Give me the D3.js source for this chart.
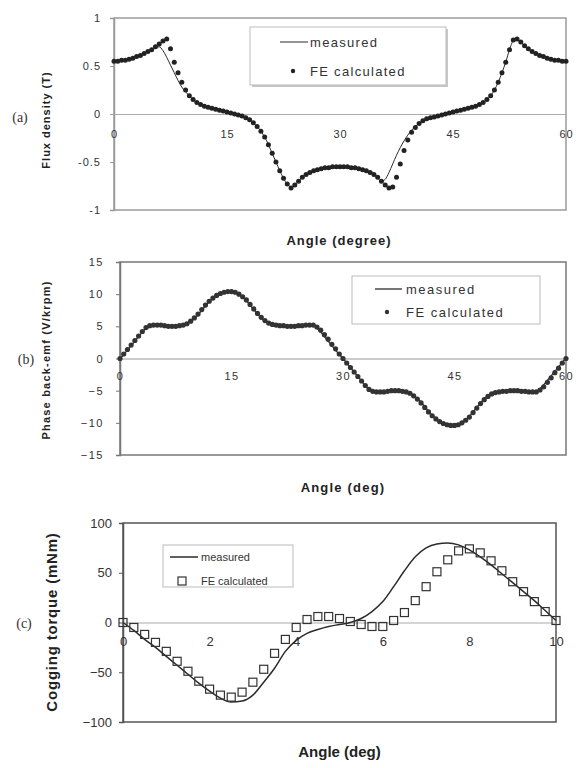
<!DOCTYPE html>
<html>
<head>
<meta charset="utf-8">
<script src="https://cdn.jsdelivr.net/npm/d3@7"></script>
<style>
  html, body { margin: 0; padding: 0; background: #fff; }
  svg { display: block; font-family: "Liberation Sans", Arial, sans-serif; }
</style>
</head>
<body>
<svg id="chart" width="576" height="768"></svg>
<script>
// ---------------- DATA ----------------
// Panel (a): flux density (T) vs angle (degree), sampled every 0.5 degree
const angleA = d3.range(0, 60.001, 0.5);
const fluxMeasured = [
  0.55,0.55,0.56,0.56,0.57,0.58,0.60,0.61,0.63,0.65,0.67,0.69,0.70,0.66,0.59,
  0.51,0.43,0.35,0.28,0.23,0.19,0.15,0.12,0.10,0.08,0.07,0.06,0.05,0.04,0.03,0.02,
  0.01,0.00,-0.01,-0.02,-0.04,-0.06,-0.09,-0.13,-0.18,-0.24,-0.32,-0.41,-0.50,-0.59,-0.67,-0.73,
  -0.76,-0.74,-0.70,-0.66,-0.63,-0.61,-0.59,-0.58,-0.57,-0.56,-0.56,-0.55,-0.55,-0.55,
  -0.55,-0.55,-0.56,-0.56,-0.57,-0.58,-0.59,-0.61,-0.63,-0.67,-0.70,-0.68,-0.61,-0.52,
  -0.43,-0.35,-0.28,-0.22,-0.17,-0.13,-0.10,-0.07,-0.05,-0.04,-0.03,-0.02,-0.01,0.00,0.01,0.02,
  0.03,0.04,0.05,0.06,0.07,0.08,0.10,0.12,0.15,0.19,0.25,0.33,0.43,0.54,0.67,0.76,
  0.77,0.75,0.71,0.68,0.65,0.63,0.61,0.60,0.58,0.57,0.56,0.56,0.55,0.55
];
const fluxFE = [
  0.55,0.55,0.56,0.56,0.57,0.58,0.60,0.61,0.63,0.65,0.67,0.70,0.73,0.76,0.78,
  0.68,0.54,0.43,0.33,0.25,0.19,0.15,0.12,0.10,0.08,0.07,0.06,0.05,0.04,0.03,0.02,
  0.01,0.00,-0.01,-0.02,-0.04,-0.06,-0.09,-0.13,-0.18,-0.24,-0.32,-0.41,-0.50,-0.59,-0.67,-0.73,
  -0.77,-0.74,-0.70,-0.66,-0.63,-0.61,-0.59,-0.58,-0.57,-0.56,-0.56,-0.55,-0.55,-0.55,
  -0.55,-0.55,-0.56,-0.56,-0.57,-0.58,-0.59,-0.61,-0.63,-0.66,-0.70,-0.74,-0.77,-0.76,
  -0.66,-0.52,-0.38,-0.27,-0.19,-0.14,-0.10,-0.07,-0.05,-0.04,-0.03,-0.02,-0.01,0.00,0.01,0.02,
  0.03,0.04,0.05,0.06,0.07,0.08,0.10,0.12,0.15,0.19,0.25,0.33,0.43,0.54,0.67,0.77,
  0.78,0.75,0.71,0.68,0.65,0.63,0.61,0.60,0.58,0.57,0.56,0.56,0.55,0.55
];
const xTicksA = [0, 15, 30, 45, 60];
const yTicksA = [-1, -0.5, 0, 0.5, 1];
const yTickLabelsA = ["-1", "-0.5", "0", "0.5", "1"];

// Panel (b): phase back-emf (V/krpm) vs angle (deg), every 0.5 degree
const angleB = d3.range(0, 60.001, 0.5);
const emfMeasured = [
  0.0,0.6,1.3,2.0,2.7,3.4,4.1,4.7,5.1,5.2,5.2,5.1,5.1,5.0,5.0,
  5.1,5.1,5.2,5.4,5.7,6.2,6.8,7.5,8.2,8.8,9.4,9.8,10.1,10.3,10.4,10.4,
  10.3,10.0,9.6,9.0,8.3,7.6,6.9,6.3,5.8,5.5,5.3,5.2,5.1,5.1,5.0,5.0,
  5.0,5.1,5.1,5.2,5.2,5.1,4.7,4.1,3.4,2.7,2.0,1.3,0.6,0.0,
  -0.7,-1.4,-2.1,-2.8,-3.5,-4.2,-4.8,-5.1,-5.2,-5.2,-5.1,-5.1,-5.0,-5.0,
  -5.1,-5.1,-5.2,-5.4,-5.7,-6.2,-6.8,-7.5,-8.2,-8.8,-9.4,-9.8,-10.1,-10.3,-10.4,-10.4,
  -10.3,-10.0,-9.6,-9.0,-8.3,-7.6,-6.9,-6.3,-5.8,-5.5,-5.3,-5.2,-5.1,-5.1,-5.0,-5.0,
  -5.0,-5.1,-5.1,-5.2,-5.2,-5.1,-4.7,-4.1,-3.4,-2.7,-2.0,-1.3,-0.6,0.0
];
const emfFE = [
  0.0,0.7,1.4,2.1,2.8,3.5,4.2,4.8,5.1,5.2,5.2,5.2,5.1,5.0,5.0,
  5.0,5.1,5.2,5.4,5.8,6.3,6.9,7.6,8.3,8.9,9.4,9.8,10.1,10.3,10.4,10.4,
  10.3,10.0,9.6,9.1,8.4,7.7,7.0,6.4,5.9,5.5,5.3,5.2,5.1,5.1,5.0,5.0,
  5.0,5.1,5.1,5.2,5.2,5.2,4.9,4.4,3.7,3.0,2.2,1.5,0.7,0.0,
  -0.7,-1.4,-2.1,-2.8,-3.5,-4.2,-4.8,-5.1,-5.2,-5.2,-5.2,-5.1,-5.0,-5.0,
  -5.0,-5.1,-5.2,-5.4,-5.8,-6.3,-6.9,-7.6,-8.3,-8.9,-9.4,-9.8,-10.1,-10.3,-10.4,-10.4,
  -10.3,-10.0,-9.6,-9.1,-8.4,-7.7,-7.0,-6.4,-5.9,-5.5,-5.3,-5.2,-5.1,-5.1,-5.0,-5.0,
  -5.0,-5.1,-5.1,-5.2,-5.2,-5.2,-4.9,-4.4,-3.7,-3.0,-2.2,-1.5,-0.7,0.0
];
const xTicksB = [0, 15, 30, 45, 60];
const yTicksB = [-15, -10, -5, 0, 5, 10, 15];

// Panel (c): cogging torque (mNm) vs angle (deg), every 0.25 degree
const angleC = d3.range(0, 10.001, 0.25);
const torqueMeasured = [
  0,-8,-17,-25,-34,-43,-52,-61,-69,-76,-80,-79,-73,-60,-46,-29,-18,-11,-7,-4,-2,
  0,4,11,21,36,52,66,75,79,80,78,73,66,58,49,40,31,22,12,2
];
const torqueFE = [
  0,-5,-12,-20,-29,-39,-49,-59,-67,-73,-75,-70,-60,-47,-31,-17,-5,3,6,6,4,
  1,-2,-4,-4,2,10,22,36,51,63,72,74,70,62,52,41,31,21,11,2
];
const xTicksC = [0, 2, 4, 6, 8, 10];
const yTicksC = [-100, -50, 0, 50, 100];

const seriesNames = ["measured", "FE calculated"];

// ---------------- DRAWING ----------------
const svg = d3.select("#chart");
const ink = "#2b2b2b";

function panel(cfg) {
  const x = d3.scaleLinear().domain(cfg.xDomain).range([cfg.left, cfg.right]);
  const y = d3.scaleLinear().domain(cfg.yDomain).range([cfg.bottom, cfg.top]);
  const g = svg.append("g");

  g.append("rect")
    .attr("x", cfg.left).attr("y", cfg.top)
    .attr("width", cfg.right - cfg.left).attr("height", cfg.bottom - cfg.top)
    .attr("fill", "none").attr("stroke", cfg.frameColor).attr("stroke-width", cfg.frameWidth);

  const yAxis = d3.axisLeft(y).tickValues(cfg.yTicks).tickSize(4).tickPadding(cfg.yPad)
    .tickFormat((d, i) => cfg.yLabels ? cfg.yLabels[i] : d3.format("d")(d));
  const ya = g.append("g").attr("transform", `translate(${cfg.left},0)`).call(yAxis);
  ya.select(".domain").attr("stroke", cfg.frameColor).attr("stroke-width", cfg.frameWidth);
  ya.selectAll(".tick line").attr("stroke", cfg.frameColor);
  ya.selectAll("text").attr("font-size", cfg.tickFont).attr("fill", "#333")
    .attr("letter-spacing", cfg.tickSpacing);

  const xAxis = d3.axisBottom(x).tickValues(cfg.xTicks).tickSize(0).tickPadding(cfg.xPad)
    .tickFormat(d3.format("d"));
  const xa = g.append("g").attr("transform", `translate(0,${y(0)})`).call(xAxis);
  xa.select(".domain").attr("stroke", cfg.zeroColor).attr("stroke-width", 1);
  xa.selectAll("text").attr("font-size", cfg.tickFont).attr("fill", "#333")
    .attr("letter-spacing", cfg.tickSpacing);

  const pts = cfg.xs.map((a, i) => [a, cfg.measured[i]]);
  g.append("path")
    .attr("d", d3.line().x(d => x(d[0])).y(d => y(d[1])).curve(d3.curveMonotoneX)(pts))
    .attr("fill", "none").attr("stroke", ink).attr("stroke-width", cfg.lineWidth);

  const fe = cfg.xs.map((a, i) => [a, cfg.fe[i]]);
  if (cfg.marker === "dot") {
    g.append("g").selectAll("circle").data(fe).join("circle")
      .attr("cx", d => x(d[0])).attr("cy", d => y(d[1])).attr("r", cfg.markerSize)
      .attr("fill", cfg.markerColor);
  } else {
    const s = cfg.markerSize;
    g.append("g").selectAll("rect").data(fe).join("rect")
      .attr("x", d => x(d[0]) - s / 2).attr("y", d => y(d[1]) - s / 2)
      .attr("width", s).attr("height", s)
      .attr("fill", "none").attr("stroke", "#333").attr("stroke-width", 1.2);
  }

  svg.append("text").attr("x", (cfg.left + cfg.right) / 2 + cfg.xTitleDx).attr("y", cfg.xTitleY)
    .attr("text-anchor", "middle").attr("font-size", cfg.xTitleFont).attr("font-weight", "bold")
    .attr("letter-spacing", cfg.titleSpacing).attr("fill", "#222").text(cfg.xTitle);
  svg.append("text")
    .attr("transform", `translate(${cfg.yTitleX},${cfg.yTitleY}) rotate(-90)`)
    .attr("text-anchor", "middle").attr("font-size", cfg.yTitleFont).attr("font-weight", "bold")
    .attr("letter-spacing", cfg.yTitleSpacing).attr("fill", "#222").text(cfg.yTitle);
  svg.append("text").attr("x", cfg.tagX).attr("y", cfg.tagY)
    .attr("text-anchor", "middle").attr("font-size", 14).attr("fill", "#333")
    .attr("font-family", "Liberation Serif, serif").text(cfg.tag);

  const L = cfg.legend;
  const lg = svg.append("g");
  if (L.shadow) {
    lg.append("rect").attr("x", L.x + 2).attr("y", L.y + 2).attr("width", L.w).attr("height", L.h)
      .attr("fill", "#c8c8c8");
  }
  lg.append("rect").attr("x", L.x).attr("y", L.y).attr("width", L.w).attr("height", L.h)
    .attr("fill", "#fff").attr("stroke", "#bbb").attr("stroke-width", 1);
  lg.append("line").attr("x1", L.lineX1).attr("x2", L.lineX2).attr("y1", L.row1).attr("y2", L.row1)
    .attr("stroke", ink).attr("stroke-width", cfg.lineWidth);
  if (cfg.marker === "dot") {
    lg.append("circle").attr("cx", L.markX).attr("cy", L.row2).attr("r", 2.2).attr("fill", cfg.markerColor);
  } else {
    const s = cfg.markerSize;
    lg.append("rect").attr("x", L.markX - s / 2).attr("y", L.row2 - s / 2).attr("width", s).attr("height", s)
      .attr("fill", "none").attr("stroke", "#333").attr("stroke-width", 1.2);
  }
  [L.row1, L.row2].forEach((ry, i) => {
    lg.append("text").attr("x", L.textX).attr("y", ry).attr("dy", "0.35em")
      .attr("font-size", L.font).attr("letter-spacing", L.spacing).attr("fill", "#333")
      .text(seriesNames[i]);
  });
}

panel({
  xs: angleA, measured: fluxMeasured, fe: fluxFE,
  xDomain: [0, 60], yDomain: [-1, 1], xTicks: xTicksA, yTicks: yTicksA, yLabels: yTickLabelsA,
  left: 114, right: 566, top: 18, bottom: 210,
  frameColor: "#9a9a9a", frameWidth: 1.5, zeroColor: "#aaa",
  tickFont: 11, tickSpacing: 1, yPad: 9, xPad: 16,
  lineWidth: 1, marker: "dot", markerSize: 2.5, markerColor: "#222",
  xTitle: "Angle (degree)", xTitleY: 245, xTitleFont: 13, xTitleDx: -1, titleSpacing: 1,
  yTitle: "Flux density (T)", yTitleX: 50, yTitleY: 120, yTitleFont: 11, yTitleSpacing: 1,
  tag: "(a)", tagX: 20, tagY: 122,
  legend: { x: 250, y: 27, w: 196, h: 58, shadow: true, row1: 42, row2: 71,
            lineX1: 280, lineX2: 308, markX: 293, textX: 310, font: 13, spacing: 1.3 }
});

panel({
  xs: angleB, measured: emfMeasured, fe: emfFE,
  xDomain: [0, 60], yDomain: [-15, 15], xTicks: xTicksB, yTicks: yTicksB,
  left: 120, right: 566, top: 262, bottom: 455,
  frameColor: "#777", frameWidth: 1.5, zeroColor: "#999",
  tickFont: 11, tickSpacing: 1.5, yPad: 12, xPad: 14,
  lineWidth: 1.3, marker: "dot", markerSize: 2.6, markerColor: "#333",
  xTitle: "Angle (deg)", xTitleY: 492, xTitleFont: 13, xTitleDx: 0, titleSpacing: 1.2,
  yTitle: "Phase back-emf (V/krpm)", yTitleX: 50, yTitleY: 360, yTitleFont: 11, yTitleSpacing: 1.2,
  tag: "(b)", tagX: 26, tagY: 364,
  legend: { x: 352, y: 276, w: 188, h: 48, shadow: false, row1: 289, row2: 312,
            lineX1: 375, lineX2: 402, markX: 387, textX: 406, font: 13, spacing: 1.5 }
});

panel({
  xs: angleC, measured: torqueMeasured, fe: torqueFE,
  xDomain: [0, 10], yDomain: [-100, 100], xTicks: xTicksC, yTicks: yTicksC,
  left: 123, right: 556, top: 523, bottom: 722,
  frameColor: "#555", frameWidth: 1.5, zeroColor: "#aaa",
  tickFont: 13, tickSpacing: 0, yPad: 7, xPad: 14,
  lineWidth: 1.5, marker: "square", markerSize: 8, markerColor: "#333",
  xTitle: "Angle (deg)", xTitleY: 757, xTitleFont: 15, xTitleDx: 0, titleSpacing: 0,
  yTitle: "Cogging torque (mNm)", yTitleX: 57, yTitleY: 622, yTitleFont: 15, yTitleSpacing: 0.8,
  tag: "(c)", tagX: 24, tagY: 628,
  legend: { x: 163, y: 545, w: 130, h: 42, shadow: false, row1: 557, row2: 581,
            lineX1: 170, lineX2: 198, markX: 182, textX: 201, font: 11, spacing: 0 }
});
</script>
</body>
</html>
